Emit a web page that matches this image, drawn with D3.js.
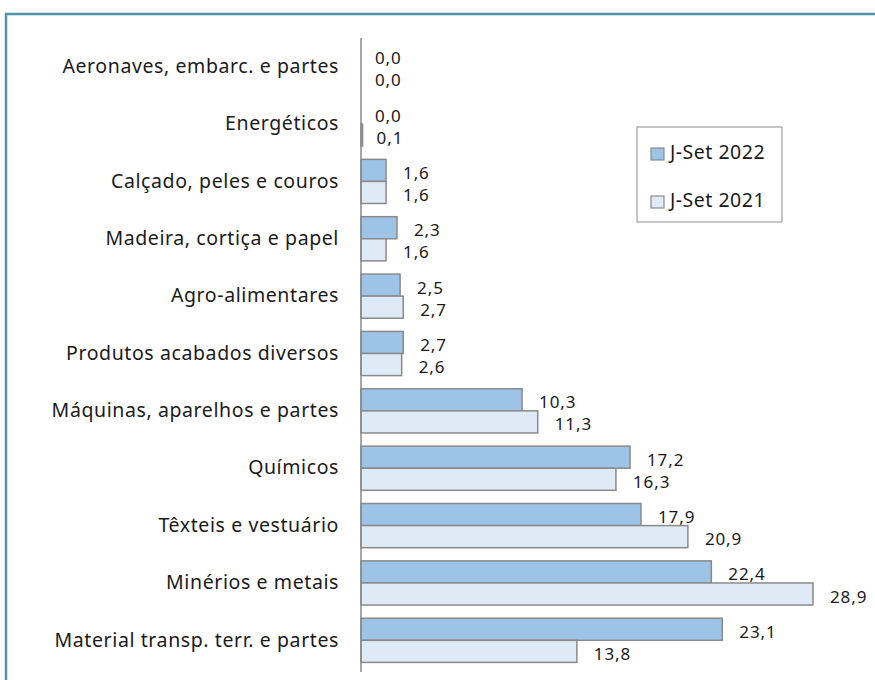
<!DOCTYPE html>
<html>
<head>
<meta charset="utf-8">
<script src="https://cdn.jsdelivr.net/npm/d3@7"></script>
<style>
  body { margin: 0; background: #fff; }
  svg text { font-family: "Noto Sans", sans-serif; fill: #1a1a1a; }
</style>
</head>
<body>
<div id="chart"></div>
<script>
"use strict";

const categories = [
    'Aeronaves, embarc. e partes',
    'Energéticos',
    'Calçado, peles e couros',
    'Madeira, cortiça e papel',
    'Agro-alimentares',
    'Produtos acabados diversos',
    'Máquinas, aparelhos e partes',
    'Químicos',
    'Têxteis e vestuário',
    'Minérios e metais',
    'Material transp. terr. e partes'
];
const seriesNames = ['J-Set 2022', 'J-Set 2021'];
const values2022 = [0.0, 0.0, 1.6, 2.3, 2.5, 2.7, 10.3, 17.2, 17.9, 22.4, 23.1];
const values2021 = [0.0, 0.1, 1.6, 1.6, 2.7, 2.6, 11.3, 16.3, 20.9, 28.9, 13.8];
const seriesColors = ['#9dc3e6', '#deebf7'];

const width = 875, height = 680;
const fmt = v => d3.format('.1f')(v).replace('.', ',');

const svg = d3.select('#chart').append('svg')
    .attr('width', width)
    .attr('height', height);

// outer frame, cut by the page edge
svg.append('rect')
    .attr('x', 6).attr('y', 14)
    .attr('width', 900).attr('height', 700)
    .attr('fill', 'none')
    .attr('stroke', '#4f94a8')
    .attr('stroke-width', 2.5);

const x = d3.scaleLinear().domain([0, 28.9]).range([361, 813]);
const y = d3.scaleBand().domain(categories).range([38, 669]).paddingInner(0.23).paddingOuter(0.115);
const ySub = d3.scaleBand().domain(seriesNames).range([0, y.bandwidth()]);

const rows = categories.map((c, i) => ({ cat: c, vals: [values2022[i], values2021[i]] }));

const groups = svg.selectAll('.row')
    .data(rows)
    .join('g')
    .attr('class', 'row')
    .attr('transform', d => `translate(0,${y(d.cat)})`);

const bars = groups.selectAll('.bar')
    .data(d => d.vals.map((v, k) => ({ v, k })))
    .join('g');

bars.append('rect')
    .attr('x', x(0))
    .attr('y', d => ySub(seriesNames[d.k]))
    .attr('width', d => x(d.v) - x(0))
    .attr('height', ySub.bandwidth())
    .attr('fill', d => seriesColors[d.k])
    .attr('stroke', '#8a8a8a')
    .attr('stroke-width', 1.5);

bars.append('text')
    .attr('x', d => x(d.v) + (d.v < 0.5 ? 14 : 17))
    .attr('y', d => ySub(seriesNames[d.k]) + ySub.bandwidth() / 2 + 4)
    .attr('dominant-baseline', 'middle')
    .style('font-size', '17px')
    .style('letter-spacing', '0.9px')
    .text(d => fmt(d.v));

// category axis
const axis = svg.append('g')
    .attr('transform', `translate(${x(0)},0)`)
    .call(d3.axisLeft(y).tickSize(0).tickPadding(22));
axis.select('.domain').attr('stroke', '#8a8a8a').attr('stroke-width', 1.5)
    .attr('d', `M0,38V672`);
axis.selectAll('text')
    .style('font-size', '19.5px')
    .style('letter-spacing', '0.6px')
    .style('font-family', '"Noto Sans", sans-serif')
    .attr('fill', '#1a1a1a');

// legend
const legend = svg.append('g').attr('transform', 'translate(637,127)');
legend.append('rect')
    .attr('width', 145).attr('height', 95)
    .attr('fill', '#fff')
    .attr('stroke', '#a0a0a0')
    .attr('stroke-width', 1.2);

const items = legend.selectAll('.item')
    .data(seriesNames)
    .join('g')
    .attr('transform', (d, i) => `translate(14,${21 + i * 48})`);
items.append('rect')
    .attr('width', 13).attr('height', 12)
    .attr('fill', (d, i) => seriesColors[i])
    .attr('stroke', '#8a8a8a')
    .attr('stroke-width', 1.2);
items.append('text')
    .attr('x', 19)
    .attr('y', 6)
    .attr('dominant-baseline', 'middle')
    .style('font-size', '19.5px')
    .style('letter-spacing', '0.5px')
    .text(d => d);
</script>
</body>
</html>
